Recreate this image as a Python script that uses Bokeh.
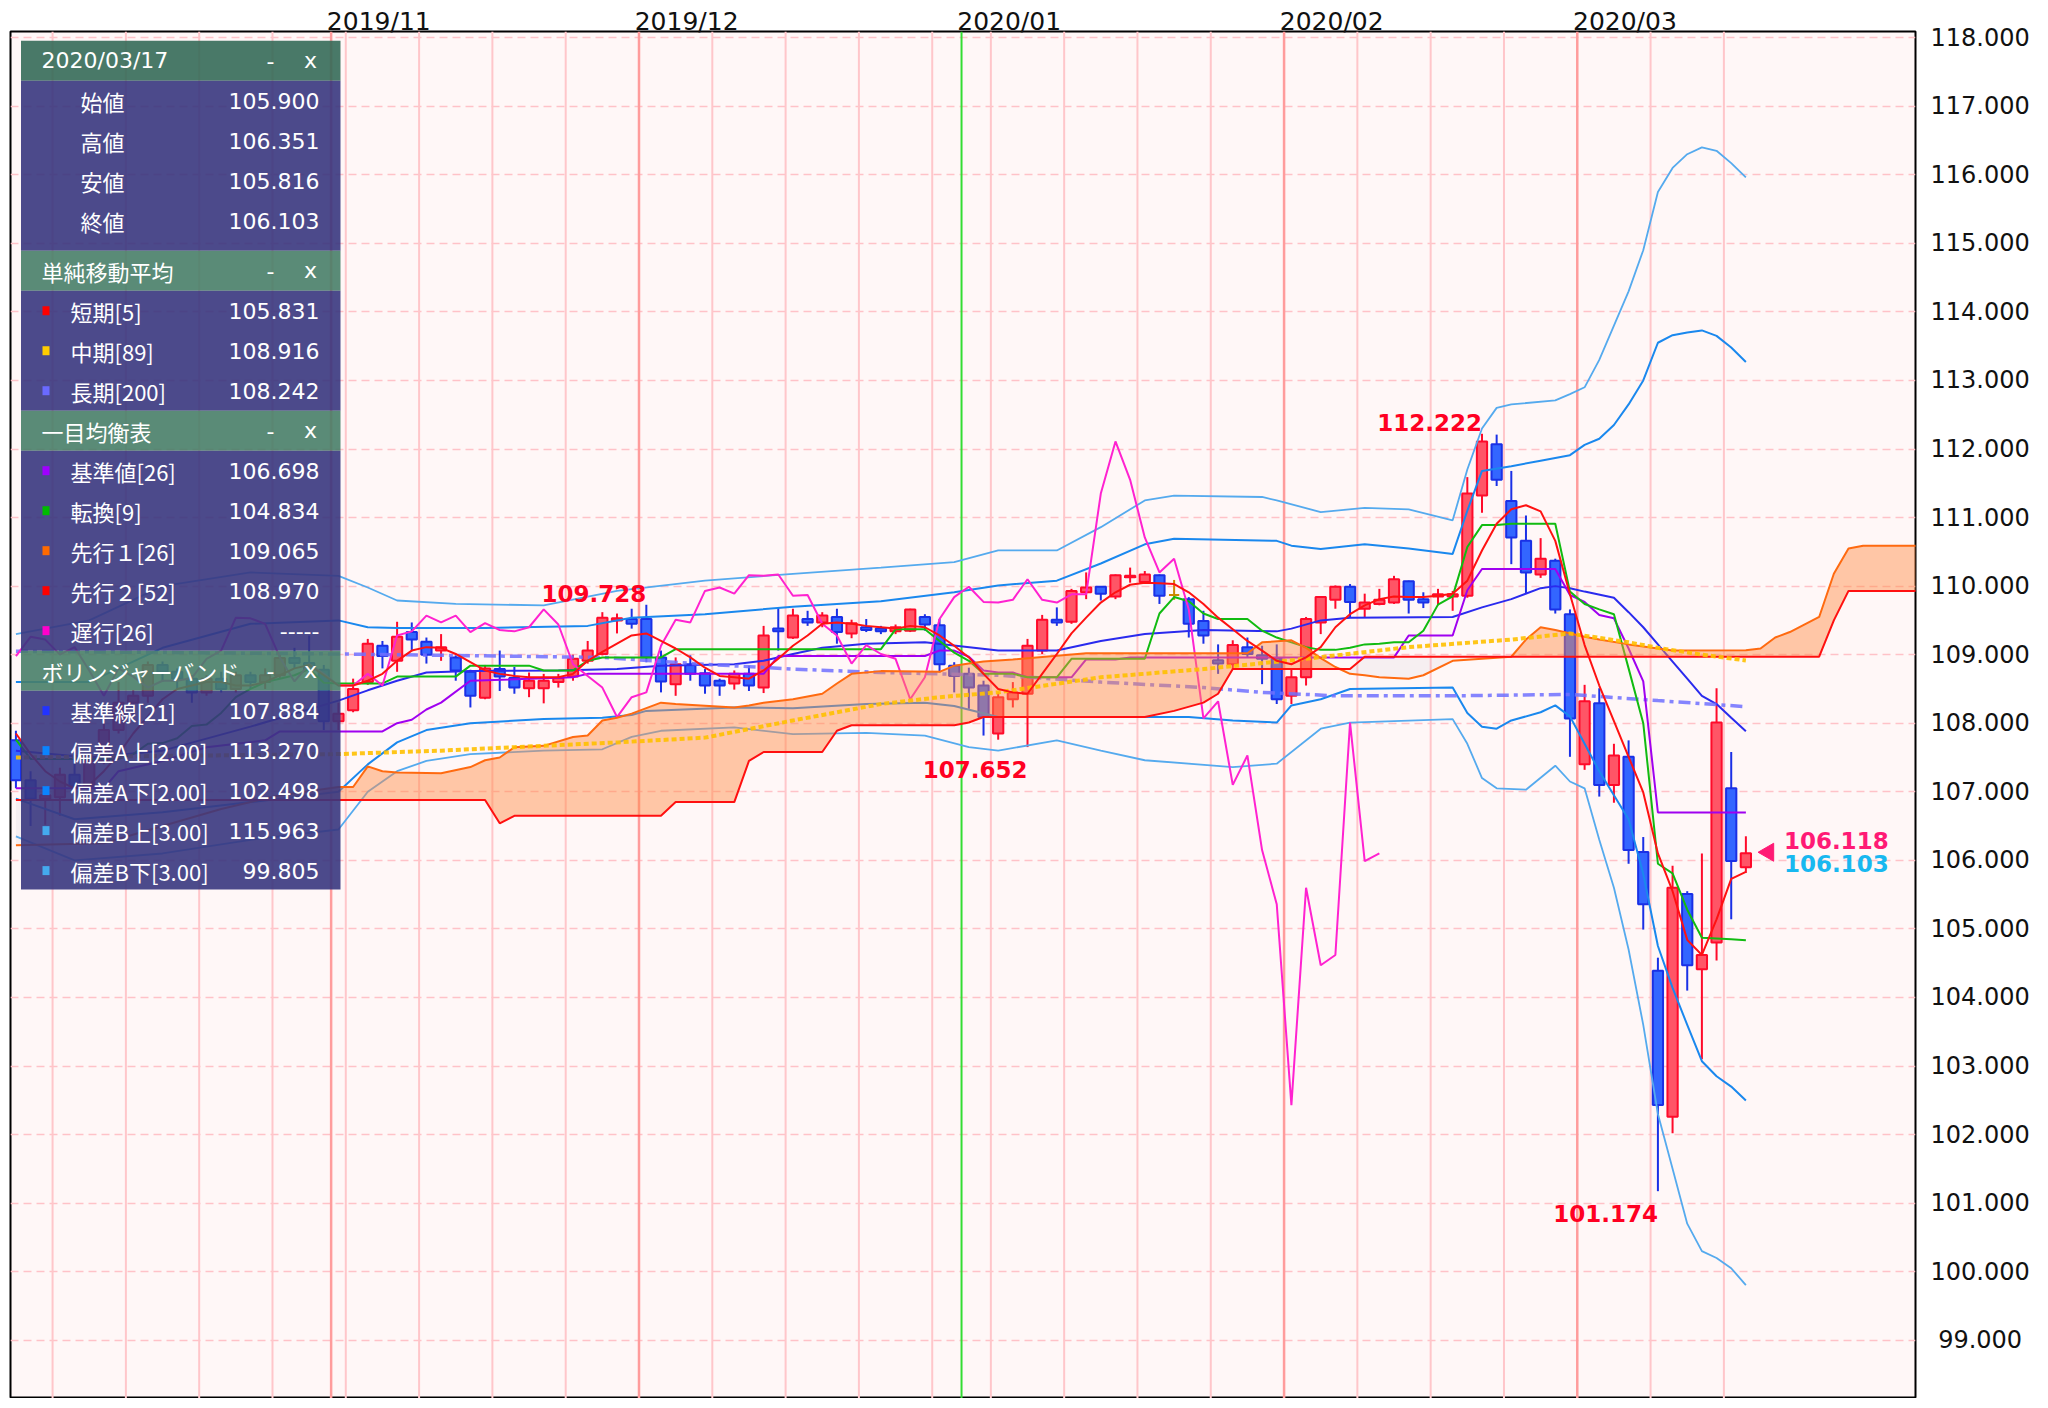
import numpy as np
from bokeh.plotting import figure
from bokeh.models import Range1d, FixedTicker, Span
from bokeh.embed import file_html
from bokeh.resources import INLINE
from bokeh.core.properties import value

# ---------------- data ----------------
# trading-day index: 0 = 2019/11/01 (2020/01/01 skipped); first visible candle = 2019/10/02
start = -22
opens = [107.75, 107.17, 106.90, 106.92, 107.25, 107.08, 107.45, 107.90, 108.30, 108.40,
         108.85, 108.75, 108.65, 108.45, 108.65, 108.50, 108.70, 108.60, 108.70, 108.95,
         108.88, 108.78, 108.03,
         108.19, 108.60, 109.13, 108.91, 109.33, 109.19, 109.06, 108.96, 108.75, 108.37,
         108.79, 108.66, 108.51, 108.51, 108.60, 108.68, 108.91, 109.01, 109.50, 109.52,
         109.52, 108.96, 108.57, 108.86, 108.73, 108.62, 108.58, 108.72, 108.52, 109.38,
         109.25, 109.52, 109.47, 109.55, 109.31, 109.40, 109.38, 109.34, 109.35, 109.55,
         109.43, 108.84, 108.72, 108.55, 107.85, 108.35, 108.43, 109.06, 109.51, 109.48,
         109.91, 109.99, 109.85, 110.13, 110.06, 110.16, 109.87, 109.81, 109.49, 108.92,
         108.86, 109.11, 108.99, 108.94, 108.40, 108.67, 109.47, 109.80, 109.99, 109.67,
         109.74, 109.76, 110.07, 109.81, 109.85, 109.85, 109.86, 111.32, 112.07, 111.24,
         110.66, 110.17, 110.37, 109.59, 107.40, 108.29, 107.10, 107.51, 106.12, 104.39,
         102.26, 105.51, 104.41, 104.80, 107.05, 105.900]
highs = [107.89, 107.30, 107.08, 107.35, 107.64, 107.50, 108.00, 108.60, 108.48, 108.90,
         108.90, 108.80, 108.70, 108.70, 108.75, 108.75, 108.75, 108.80, 109.00, 109.10,
         109.28, 108.85, 108.30,
         108.65, 109.23, 109.20, 109.48, 109.47, 109.25, 109.30, 108.99, 108.78, 108.85,
         109.06, 108.82, 108.74, 108.72, 108.72, 109.00, 109.20, 109.62, 109.60, 109.67,
         109.728, 109.06, 108.96, 108.99, 108.79, 108.65, 108.77, 108.84, 109.42, 109.69,
         109.67, 109.64, 109.62, 109.67, 109.51, 109.52, 109.42, 109.44, 109.67, 109.59,
         109.52, 108.89, 108.81, 108.62, 108.45, 108.60, 109.23, 109.58, 109.69, 109.96,
         110.20, 110.00, 110.17, 110.27, 110.22, 110.17, 110.09, 109.84, 109.64, 109.15,
         109.21, 109.25, 109.13, 109.15, 108.79, 109.55, 109.85, 110.01, 110.03, 109.89,
         109.96, 110.15, 110.08, 109.91, 109.96, 109.93, 111.59, 112.222, 112.21, 111.68,
         111.03, 110.70, 110.40, 109.66, 108.56, 108.51, 107.70, 107.75, 106.34, 104.58,
         105.92, 105.55, 106.10, 108.51, 107.58, 106.351]
lows = [107.05, 106.50, 106.52, 106.65, 107.02, 107.05, 107.40, 107.85, 108.10, 108.30,
        108.60, 108.50, 108.30, 108.40, 108.45, 108.45, 108.50, 108.50, 108.65, 108.80,
        108.75, 107.90, 107.90,
        108.16, 108.56, 108.80, 108.75, 109.05, 108.87, 108.91, 108.62, 108.23, 108.35,
        108.47, 108.43, 108.38, 108.29, 108.52, 108.62, 108.87, 108.99, 109.31, 109.38,
        108.89, 108.45, 108.40, 108.62, 108.43, 108.40, 108.49, 108.47, 108.44, 109.06,
        109.23, 109.42, 109.40, 109.16, 109.24, 109.33, 109.30, 109.30, 109.33, 109.35,
        108.74, 108.45, 108.21, 107.82, 107.76, 108.23, 107.652, 109.01, 109.42, 109.45,
        109.81, 109.79, 109.81, 110.05, 110.05, 109.74, 109.80, 109.25, 109.16, 108.72,
        108.79, 108.96, 108.57, 108.28, 108.28, 108.55, 109.30, 109.67, 109.55, 109.55,
        109.72, 109.74, 109.60, 109.68, 109.72, 109.64, 109.83, 111.07, 111.46, 110.32,
        109.90, 110.12, 109.60, 107.51, 107.32, 106.93, 106.84, 105.95, 104.99, 101.174,
        102.02, 104.10, 103.10, 104.54, 105.14, 105.816]
closes = [107.17, 106.90, 106.95, 107.25, 107.08, 107.45, 107.90, 108.30, 108.40, 108.85,
          108.75, 108.65, 108.45, 108.65, 108.50, 108.70, 108.60, 108.70, 108.95, 108.88,
          108.78, 108.03, 108.14,
          108.50, 109.16, 108.98, 109.26, 109.22, 109.00, 109.11, 108.77, 108.40, 108.80,
          108.68, 108.52, 108.62, 108.62, 108.66, 108.94, 109.06, 109.54, 109.53, 109.45,
          108.96, 108.61, 108.86, 108.72, 108.55, 108.55, 108.72, 108.55, 109.28, 109.34,
          109.57, 109.47, 109.57, 109.33, 109.46, 109.36, 109.34, 109.40, 109.66, 109.44,
          108.86, 108.69, 108.52, 108.09, 108.38, 108.45, 109.13, 109.51, 109.47, 109.93,
          109.98, 109.89, 110.16, 110.15, 110.17, 109.86, 109.87, 109.45, 109.28, 108.87,
          109.14, 109.01, 108.94, 108.35, 108.67, 109.52, 109.84, 109.99, 109.77, 109.76,
          109.80, 110.10, 109.80, 109.76, 109.88, 109.88, 111.35, 112.11, 111.55, 110.71,
          110.20, 110.40, 109.66, 108.07, 108.32, 107.10, 107.53, 106.15, 105.36, 102.43,
          105.60, 104.47, 104.62, 108.01, 105.99, 106.103]

sma5 = [107.85, 107.55, 107.30, 107.15, 107.05, 107.10, 107.30, 107.55, 107.85, 108.10,
        108.35, 108.50, 108.55, 108.60, 108.60, 108.55, 108.55, 108.60, 108.70, 108.80,
        108.85, 108.70, 108.55,
        108.55, 108.62, 108.72, 108.91, 109.06, 109.11, 109.10, 109.01, 108.89, 108.77,
        108.72, 108.69, 108.67, 108.67, 108.67, 108.72, 108.91, 109.04, 109.16, 109.28,
        109.31, 109.20, 109.09, 108.96, 108.81, 108.69, 108.67, 108.65, 108.77, 108.94,
        109.13, 109.28, 109.45, 109.47, 109.45, 109.42, 109.40, 109.38, 109.42, 109.40,
        109.28, 109.13, 108.96, 108.72, 108.50, 108.45, 108.43, 108.72, 109.01, 109.31,
        109.54, 109.76, 109.91, 110.02, 110.05, 110.04, 110.03, 109.91, 109.74, 109.54,
        109.37, 109.20, 109.06, 108.91, 108.86, 108.96, 109.11, 109.40, 109.59, 109.72,
        109.81, 109.85, 109.84, 109.84, 109.86, 109.89, 110.08, 110.52, 110.91, 111.12,
        111.18, 111.09, 110.66, 109.88, 109.14, 108.55, 108.03, 107.51, 106.99, 106.10,
        105.55, 104.84, 104.62, 105.14, 105.73, 105.831]

sma89_idx = [-22, 0, 7, 12, 19, 25, 31, 37, 41, 45, 52, 59, 66, 73, 80, 84, 88, 90, 93, 96]
sma89_val = [107.50, 107.55, 107.60, 107.65, 107.72, 107.79, 108.04, 108.28, 108.38, 108.45,
             108.67, 108.79, 108.94, 109.11, 109.22, 109.31, 109.18, 109.10, 109.00, 108.916]

sma200_idx = [-22, 0, 18, 25, 31, 37, 45, 52, 59, 63, 68, 76, 84, 90, 96]
sma200_val = [109.05, 109.01, 108.96, 108.86, 108.79, 108.74, 108.70, 108.60, 108.52, 108.45,
              108.40, 108.40, 108.42, 108.33, 108.242]

kijun_idx = [-22, -16, -15, -12, -9, -5, -4, 3, 4, 5, 6, 7, 9, 16, 17, 29, 30, 40, 41, 42,
             43, 44, 45, 46, 47, 50, 51, 53, 54, 72, 73, 76, 77, 78, 83, 84, 85, 86, 87, 88,
             89, 90, 96]
kijun_val = [107.05, 107.05, 107.30, 107.45, 107.65, 107.75, 107.88, 107.88, 108.00, 108.05,
             108.20, 108.30, 108.62, 108.67, 108.72, 108.72, 108.98, 108.98, 109.06, 109.06,
             108.97, 108.77, 108.74, 108.74, 108.67, 108.67, 108.93, 108.93, 108.96, 108.96,
             109.28, 109.28, 109.94, 110.25, 110.25, 109.87, 109.77, 109.58, 109.53, 109.09,
             108.61, 106.698, 106.698]

tenkan_idx = [-22, -21, -15, -14, -13, -12, -11, -10, -9, -8, -7, -6, -5, -4, -3, -2, -1, 0, 3, 4,
              8, 9, 13, 14, 16, 17, 18, 22, 23, 37, 38, 40, 41, 42, 43, 44, 46, 47, 49, 50,
              55, 56, 57, 58, 59, 60, 62, 63, 64, 65, 66, 67, 68, 69, 70, 71, 72, 73, 74, 75,
              76, 77, 78, 79, 80, 83, 84, 85, 86, 87, 88, 89, 90, 91, 92, 93, 94, 95, 96]
tenkan_val = [107.76, 107.48, 107.48, 107.55, 107.70, 107.71, 107.78, 107.96, 107.98, 108.15,
              108.38, 108.50, 108.60, 108.65, 108.70, 108.79, 108.59, 108.58, 108.58, 108.68,
              108.68, 108.84, 108.84, 108.77, 108.77, 108.91, 108.96, 108.96, 109.08, 109.08,
              109.37, 109.37, 109.20, 109.03, 108.91, 108.72, 108.72, 108.67, 108.67, 108.94,
              108.94, 109.60, 109.84, 109.78, 109.60, 109.52, 109.52, 109.35, 109.25, 109.18,
              109.11, 109.07, 109.07, 109.10, 109.15, 109.16, 109.18, 109.18, 109.35, 109.73,
              109.85, 110.57, 110.89, 110.89, 110.91, 110.91, 109.92, 109.74, 109.66, 109.59,
              108.80, 108.00, 105.95, 105.81, 105.28, 104.87, 104.86, 104.85, 104.834]

cloud_idx = [-22, -16, -12, -8, -4, -3, 0, 1, 2, 3, 4, 7, 9, 10, 11, 12, 14, 16, 17, 18,
             19, 20, 22, 23, 27, 28, 29, 31, 33, 34, 35, 37, 41, 42, 43, 44, 46, 51, 55, 57,
             59, 60, 61, 62, 63, 65, 66, 67, 68, 69, 70, 71, 73, 74, 76, 80, 81, 82, 83, 85,
             86, 88, 91, 96, 97, 98, 99, 101, 102, 103, 104, 108]
senkou_a = [106.22, 106.25, 106.50, 106.75, 106.95, 106.98, 107.07, 107.07, 107.37, 107.30,
            107.28, 107.27, 107.36, 107.46, 107.50, 107.65, 107.67, 107.80, 107.82, 108.04,
            108.08, 108.14, 108.30, 108.28, 108.23, 108.26, 108.30, 108.35, 108.43, 108.58,
            108.72, 108.76, 108.75, 108.84, 108.87, 108.90, 108.93, 109.02, 109.02, 109.02,
            109.02, 109.02, 109.02, 109.02, 109.18, 109.21, 109.10, 108.95, 108.82, 108.72,
            108.70, 108.67, 108.65, 108.70, 108.91, 108.97, 109.22, 109.40, 109.36, 109.26,
            109.22, 109.15, 109.06, 109.065, 109.09, 109.25, 109.33, 109.55, 110.18, 110.55,
            110.59, 110.59]
senkou_b = [106.88, 106.88, 106.88, 106.88, 106.88, 106.88, 106.88, 106.88, 106.88, 106.88,
            106.88, 106.88, 106.88, 106.88, 106.54, 106.65, 106.65, 106.65, 106.65, 106.65,
            106.65, 106.65, 106.65, 106.85, 106.85, 107.45, 107.58, 107.58, 107.58, 107.89,
            107.97, 107.97, 107.97, 107.97, 108.01, 108.09, 108.09, 108.09, 108.09, 108.18,
            108.30, 108.43, 108.79, 108.79, 108.79, 108.79, 108.79, 108.79, 108.79, 108.79,
            108.97, 108.97, 108.97, 108.97, 108.97, 108.97, 108.97, 108.97, 108.97, 108.97,
            108.97, 108.97, 108.97, 108.97, 108.97, 108.97, 108.97, 108.97, 109.50, 109.93,
            109.93, 109.93]
chikou_shift = 25

bb_mid_idx = [-22, -17, -12, -6, 0, 2, 4, 6, 9, 15, 19, 22, 27, 29, 31, 33, 36, 40, 45, 49,
              52, 55, 59, 64, 65, 67, 69, 76, 78, 80, 82, 83, 84, 85, 87, 88, 89, 90, 91, 92,
              93, 94, 95, 96]
bb_mid_val = [107.60, 107.50, 107.60, 107.95, 108.33, 108.48, 108.62, 108.74, 108.76, 108.77,
              108.79, 108.84, 108.86, 108.91, 109.01, 109.10, 109.16, 109.18, 109.06, 109.06,
              109.20, 109.30, 109.36, 109.34, 109.38, 109.50, 109.54, 109.55, 109.69, 109.81,
              109.97, 110.00, 109.97, 109.92, 109.83, 109.62, 109.40, 109.15, 108.90, 108.65,
              108.40, 108.28, 108.08, 107.884]
bb_up2_idx = [-22, -17, -12, -6, 0, 2, 4, 10, 17, 20, 25, 31, 37, 42, 45, 49, 52, 55, 57, 64,
              65, 67, 70, 73, 76, 77, 78, 80, 82, 84, 85, 86, 87, 88, 89, 90, 91, 92, 93, 94,
              95, 96]
bb_up2_val = [108.60, 108.60, 109.10, 109.45, 109.50, 109.40, 109.39, 109.39, 109.42, 109.54,
              109.59, 109.70, 109.78, 109.91, 110.01, 110.08, 110.33, 110.61, 110.69, 110.66,
              110.59, 110.54, 110.61, 110.55, 110.47, 111.10, 111.68, 111.75, 111.83, 111.91,
              112.06, 112.15, 112.35, 112.65, 113.00, 113.55, 113.66, 113.70, 113.73, 113.65,
              113.48, 113.27]
bb_lo2_idx = [-22, -18, -12, -6, 0, 2, 4, 6, 9, 14, 18, 20, 21, 27, 31, 36, 40, 42, 45, 50,
              58, 61, 64, 65, 67, 69, 76, 77, 78, 79, 80, 82, 83, 84, 85, 86, 87, 88, 89, 90,
              91, 92, 93, 94, 95, 96]
bb_lo2_val = [106.90, 106.60, 106.70, 106.85, 107.00, 107.40, 107.72, 107.90, 108.00, 108.06,
              108.08, 108.12, 108.18, 108.23, 108.22, 108.28, 108.30, 108.25, 108.09, 108.09,
              108.09, 108.04, 108.01, 108.26, 108.35, 108.50, 108.52, 108.15, 107.95, 107.92,
              108.04, 108.16, 108.26, 108.10, 107.70, 107.30, 106.95, 106.60, 105.80, 104.75,
              104.14, 103.60, 103.07, 102.85, 102.70, 102.498]
bb_up3_idx = [-22, -17, -12, -6, 0, 2, 4, 8, 14, 19, 25, 31, 37, 42, 45, 49, 52, 55, 57, 63,
              64, 67, 70, 73, 76, 77, 78, 79, 80, 83, 84, 85, 86, 87, 88, 89, 90, 91, 92, 93,
              94, 95, 96]
bb_up3_val = [109.30, 109.50, 110.00, 110.20, 110.15, 109.98, 109.79, 109.74, 109.72, 109.93,
              110.08, 110.18, 110.27, 110.35, 110.52, 110.52, 110.86, 111.25, 111.32, 111.30,
              111.25, 111.08, 111.14, 111.12, 110.96, 111.70, 112.30, 112.60, 112.65, 112.71,
              112.80, 112.90, 113.30, 113.80, 114.30, 114.90, 115.75, 116.10, 116.30, 116.40,
              116.35, 116.17, 115.963]
bb_lo3_idx = [-22, -18, -12, -6, 0, 2, 4, 6, 9, 14, 18, 20, 22, 27, 31, 36, 40, 43, 45, 49,
              52, 55, 61, 64, 67, 69, 76, 77, 78, 79, 81, 83, 84, 85, 86, 87, 88, 89, 90, 91,
              92, 93, 94, 95, 96]
bb_lo3_val = [106.35, 106.00, 106.10, 106.30, 106.45, 107.00, 107.30, 107.45, 107.55, 107.60,
              107.62, 107.80, 107.89, 107.94, 107.84, 107.86, 107.82, 107.65, 107.60, 107.75,
              107.60, 107.46, 107.36, 107.41, 107.92, 108.01, 108.06, 107.70, 107.20, 107.05,
              107.03, 107.38, 107.15, 107.05, 106.30, 105.60, 104.70, 103.60, 102.30, 101.50,
              100.70, 100.30, 100.20, 100.05, 99.805]

peak_idx = [21, 78]
trough_idx = [47, 90]
marker_price = 106.118

month_labels = ["2019/11", "2019/12", "2020/01", "2020/02", "2020/03"]
month_idx = [0, 21, 43, 65, 85]
year_idx = [43]
week_idx = [-19, -14, -9, -4, 1, 6, 11, 16, 26, 31, 36, 41, 45, 50, 55, 60, 70, 75, 80, 90, 95]
y_ticks = list(range(99, 119))

panel_date = "2020/03/17"
ohlc_labels = ["始値", "高値", "安値", "終値"]
sma_labels = ["短期[5]", "中期[89]", "長期[200]"]
ichi_labels = ["基準値[26]", "転換[9]", "先行１[26]", "先行２[52]", "遅行[26]"]
bb_labels = ["基準線[21]", "偏差A上[2.00]", "偏差A下[2.00]", "偏差B上[3.00]", "偏差B下[3.00]"]
section_titles = ["単純移動平均", "一目均衡表", "ボリンジャーバンド"]

# ---------------- figure ----------------
X0, X1 = -22.37, 107.57
Y0, Y1 = 98.15, 118.09
FRAME_W, FRAME_H = 1905.0, 1367.3

p = figure(width=2040, height=1398, x_range=Range1d(X0, X1), y_range=Range1d(Y0, Y1),
           x_axis_location="above", y_axis_location="right",
           toolbar_location=None, output_backend="svg",
           min_border_left=10, min_border_right=125, min_border_top=31, min_border_bottom=0,
           background_fill_color="#fff7f7", border_fill_color="white",
           outline_line_color="black", outline_line_width=2)

# axes
p.yaxis.ticker = FixedTicker(ticks=y_ticks)
p.yaxis.major_label_overrides = {t: (f"{t:.3f}" if t >= 100 else "\u00a0" + f"{t:.3f}") for t in y_ticks}
p.yaxis.major_label_text_font = "DejaVu Sans"
p.yaxis.major_label_text_font_size = "24px"
p.yaxis.major_label_text_color = "#111111"
p.yaxis.major_label_standoff = 15
p.yaxis.major_tick_out = 0
p.yaxis.major_tick_in = 0
p.yaxis.major_tick_line_color = None
p.yaxis.minor_tick_line_color = None
p.yaxis.axis_line_color = None

xt = [m + 2.75 for m in month_idx]
p.xaxis.ticker = FixedTicker(ticks=xt)
p.xaxis.major_label_overrides = {t: lab for t, lab in zip(xt, month_labels)}
p.xaxis.major_label_text_font = "DejaVu Sans"
p.xaxis.major_label_text_font_size = "25px"
p.xaxis.major_label_text_color = "#111111"
p.xaxis.major_label_standoff = -4
p.xaxis.major_tick_out = 0
p.xaxis.major_tick_in = 0
p.xaxis.major_tick_line_color = None
p.xaxis.minor_tick_line_color = None
p.xaxis.axis_line_color = None

p.xgrid.visible = False
p.ygrid.grid_line_color = "#ffc2c8"
p.ygrid.grid_line_dash = "8 5"
p.ygrid.grid_line_width = 1.5

# vertical separators
for m in week_idx:
    p.add_layout(Span(location=m - 0.5, dimension="height", line_color="#ffc6ca",
                      line_width=2, level="underlay"))
for m in month_idx:
    if m in year_idx:
        continue
    p.add_layout(Span(location=m - 0.5, dimension="height", line_color="#ff9c9c",
                      line_width=2.5, level="underlay"))
for m in year_idx:
    p.add_layout(Span(location=m - 0.5, dimension="height", line_color="#33dd33",
                      line_width=2, level="underlay"))

# candles
idx = list(range(start, start + len(opens)))
body_top = [max(o, c) for o, c in zip(opens, closes)]
body_bot = [min(o, c) for o, c in zip(opens, closes)]
fills, edges = [], []
for o, c in zip(opens, closes):
    if c > o:
        fills.append("#ff5566"); edges.append("#ff0a2a")
    elif c < o:
        fills.append("#3366ff"); edges.append("#1a30e6")
    else:
        fills.append("#cc8800"); edges.append("#cc8800")
p.segment(x0=idx, y0=lows, x1=idx, y1=highs, line_color=edges, line_width=2)
p.vbar(x=idx, width=0.7, top=body_top, bottom=body_bot, fill_color=fills,
       line_color=edges, line_width=2)

# Bollinger bands
p.line(bb_up3_idx, bb_up3_val, line_color="#55aaee", line_width=1.8)
p.line(bb_lo3_idx, bb_lo3_val, line_color="#55aaee", line_width=1.8)
p.line(bb_up2_idx, bb_up2_val, line_color="#1a88ee", line_width=2)
p.line(bb_lo2_idx, bb_lo2_val, line_color="#1a88ee", line_width=2)
p.line(bb_mid_idx, bb_mid_val, line_color="#2a2aee", line_width=2)

# long SMA
p.line(sma200_idx, sma200_val, line_color="#7070ff", line_alpha=0.85, line_width=3.5,
       line_dash="12 5 4 5")

# ichimoku lines
p.line(kijun_idx, kijun_val, line_color="#a000f0", line_width=2)
p.line(tenkan_idx, tenkan_val, line_color="#11bb11", line_width=2)
ch_x = [i - chikou_shift for i in idx if i - chikou_shift >= start]
ch_y = [c for i, c in zip(idx, closes) if i - chikou_shift >= start]
p.line(ch_x, ch_y, line_color="#ff22d0", line_width=2)

# cloud
A = np.array(senkou_a); B = np.array(senkou_b)
p.varea(x=cloud_idx, y1=B, y2=np.maximum(A, B), fill_color="#ff8c46", fill_alpha=0.46)
p.varea(x=cloud_idx, y1=np.minimum(A, B), y2=B, fill_color="#b4b4c4", fill_alpha=0.12)
p.line(cloud_idx, senkou_a, line_color="#ff6a10", line_width=2)
p.line(cloud_idx, senkou_b, line_color="#ff1010", line_width=2)

# SMA 89 / 5
p.line(sma89_idx, sma89_val, line_color="#ffc000", line_width=4, line_dash="5 3", line_alpha=0.9)
p.line(idx[:len(sma5)], sma5, line_color="#ff1111", line_width=2)

# high / low labels
lab_font = value("DejaVu Sans")
p.text(x=peak_idx, y=[highs[i - start] for i in peak_idx],
       text=[f"{highs[i - start]:.3f}" for i in peak_idx],
       text_align="right", text_baseline="middle", y_offset=-11,
       text_font=lab_font, text_font_style="bold", text_font_size="23px", text_color="#ff0022")
p.text(x=trough_idx, y=[lows[i - start] for i in trough_idx],
       text=[f"{lows[i - start]:.3f}" for i in trough_idx],
       text_align="right", text_baseline="middle", y_offset=22,
       text_font=lab_font, text_font_style="bold", text_font_size="23px", text_color="#ff0022")

# last price markers
last_i = idx[-1]
ux = (X1 - X0) / FRAME_W
p.scatter(x=[last_i + 22.6 * ux], y=[marker_price], marker="triangle", angle=np.pi / 2,
          size=18, fill_color="#ff1a75", line_color="#ff1a75")
p.text(x=[last_i], y=[marker_price], text=[f"{marker_price:.3f}"], x_offset=38, y_offset=-12,
       text_baseline="middle", text_font=lab_font, text_font_style="bold",
       text_font_size="23px", text_color="#ff1a75")
p.text(x=[last_i], y=[closes[-1]], text=[f"{closes[-1]:.3f}"], x_offset=38, y_offset=10,
       text_baseline="middle", text_font=lab_font, text_font_style="bold",
       text_font_size="23px", text_color="#18b8f0")

# ---------------- info panel ----------------
def fx(px):
    return X0 + px * (X1 - X0) / FRAME_W

def fy(py):
    return Y1 - py * (Y1 - Y0) / FRAME_H

PL, PR = 10.5, 330.0
blocks = [(9.3, 49.3, "#356a58"), (49.3, 219.3, "#38367e"), (219.3, 259.3, "#487e68"),
          (259.3, 379.3, "#38367e"), (379.3, 419.3, "#487e68"), (419.3, 619.3, "#38367e"),
          (619.3, 659.3, "#487e68"), (659.3, 858.3, "#38367e")]
p.quad(left=[fx(PL)] * len(blocks), right=[fx(PR)] * len(blocks),
       top=[fy(b[0]) for b in blocks], bottom=[fy(b[1]) for b in blocks],
       fill_color=[b[2] for b in blocks], fill_alpha=0.9, line_color=None, level="overlay")

pfont = value("Noto Sans CJK JP")
nfont = value("DejaVu Sans")
fs = "22px"
# header rows
head_y = [29.3, 239.3, 399.3, 639.3]
p.text(x=[fx(31)], y=[fy(head_y[0])], text=[panel_date], text_baseline="middle",
       text_font=nfont, text_font_size=fs, text_color="white", level="overlay")
p.text(x=[fx(31)] * 3, y=[fy(v) for v in head_y[1:]], text=section_titles, text_baseline="middle",
       text_font=pfont, text_font_size=fs, text_color="white", level="overlay")
p.text(x=[fx(260)] * 4, y=[fy(v) for v in head_y], text=["-"] * 4, text_align="center",
       text_baseline="middle", text_font=nfont, text_font_size=fs, text_color="white", level="overlay")
p.text(x=[fx(300)] * 4, y=[fy(v) for v in head_y], text=["x"] * 4, text_align="center",
       text_baseline="middle", text_font=nfont, text_font_size=fs, text_color="white", level="overlay")

# OHLC rows
ohlc_vals = [f"{opens[-1]:.3f}", f"{highs[-1]:.3f}", f"{lows[-1]:.3f}", f"{closes[-1]:.3f}"]
oy = [69.3, 109.3, 149.3, 189.3]
p.text(x=[fx(70)] * 4, y=[fy(v) for v in oy], text=ohlc_labels, text_baseline="middle",
       text_font=pfont, text_font_size=fs, text_color="white", level="overlay")
p.text(x=[fx(309)] * 4, y=[fy(v) for v in oy], text=ohlc_vals, text_align="right",
       text_baseline="middle", text_font=nfont, text_font_size=fs, text_color="white", level="overlay")

# indicator rows
rows_lab = sma_labels + ichi_labels + bb_labels
rows_val = [f"{sma5[-1]:.3f}", f"{sma89_val[-1]:.3f}", f"{sma200_val[-1]:.3f}",
            f"{kijun_val[-1]:.3f}", f"{tenkan_val[-1]:.3f}",
            f"{senkou_a[cloud_idx.index(last_i)]:.3f}", f"{senkou_b[cloud_idx.index(last_i)]:.3f}", "-----",
            f"{bb_mid_val[-1]:.3f}", f"{bb_up2_val[-1]:.3f}", f"{bb_lo2_val[-1]:.3f}",
            f"{bb_up3_val[-1]:.3f}", f"{bb_lo3_val[-1]:.3f}"]
rows_col = ["#ff0000", "#ffcc00", "#6a6aff", "#a000ff", "#00bb00", "#ff6a00", "#ff0000",
            "#ff00cc", "#2233ff", "#0a84ff", "#0a84ff", "#44aaee", "#44aaee"]
rows_y = [279.3, 319.3, 359.3, 439.3, 479.3, 519.3, 559.3, 599.3,
          679.3, 719.3, 759.3, 799.3, 839.3]
p.quad(left=[fx(32)] * 13, right=[fx(39)] * 13, top=[fy(v - 4.5) for v in rows_y],
       bottom=[fy(v + 4.5) for v in rows_y], fill_color=rows_col, line_color=None, level="overlay")
p.text(x=[fx(60)] * 13, y=[fy(v) for v in rows_y], text=rows_lab, text_baseline="middle",
       text_font=pfont, text_font_size=fs, text_color="white", level="overlay")
p.text(x=[fx(309)] * 13, y=[fy(v) for v in rows_y], text=rows_val, text_align="right",
       text_baseline="middle", text_font=nfont, text_font_size=fs, text_color="white", level="overlay")

open("out.html", "w").write(file_html(p, INLINE, "USDJPY"))
